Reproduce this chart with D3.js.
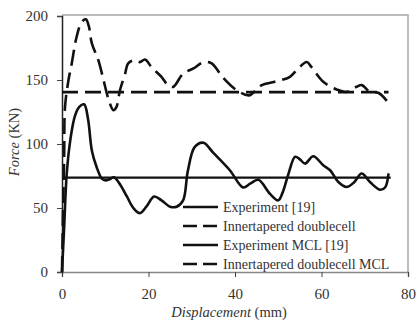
<!DOCTYPE html>
<html><head><meta charset="utf-8">
<script src="https://cdn.jsdelivr.net/npm/d3@7"></script>
<style>body{margin:0;background:#fff}svg{display:block}</style>
</head><body>
<script>
const xTicks = [0, 20, 40, 60, 80];
const yTicks = [0, 50, 100, 150, 200];
const seriesNames = ["Experiment [19]", "Innertapered doublecell", "Experiment MCL [19]", "Innertapered doublecell MCL"];
const experiment = [[0,0],[0.5,35],[1.1,77],[2,105],[3,122],[4,129],[5.1,131],[6,120],[6.9,95],[8,82],[9.2,73],[10.1,71.6],[11,72.5],[12,74],[13.5,68],[15,59],[16.5,50],[18,46],[19.5,51],[21.3,59],[23,56],[25,51],[26.5,51],[28,56],[29.1,79],[30.7,97.7],[32.7,101],[35,93],[38.8,79.5],[41.9,66],[43.5,69],[45.4,72],[48.1,61],[50,56],[51,62],[52.3,76],[53.9,90],[55,88],[56.2,84.7],[58.1,90.4],[60.4,83.4],[62,79.5],[63.9,70.3],[65.8,66.4],[67.5,70],[69.3,76.9],[71.2,70.3],[73.5,64.3],[74.7,66],[75.5,77]];
const doublecell = [[0,0],[0.2,40],[0.5,90],[0.7,129],[1.5,150],[2.2,162],[3.4,184],[4.5,195],[5.5,197.4],[6.2,192],[6.9,178.6],[8.4,165.5],[9.6,150],[10.7,135.6],[11.9,126.4],[12.6,129],[13.4,142],[14.6,155],[15.3,163],[16.9,165.5],[18,164],[19.2,166],[20.7,160],[23,152.5],[24.5,146],[25.7,144.6],[28,155],[30.4,159],[32.7,164],[34.6,163],[37.2,152],[40.4,142],[43.3,138],[44.8,142],[46.2,146],[49.2,148.6],[52.7,152.5],[54.6,159],[56.6,164],[57.7,160],[60.4,148.6],[63.5,142.6],[65.8,140.7],[68.1,144.7],[69.3,146],[71.2,140.7],[73.1,140],[75.1,133.7]];
const experimentMCL = [[0,73.7],[76,73.7]];
const doublecellMCL = [[0,140.5],[75.5,140.5]];

const W = 417, H = 320;
const svg = d3.select("body").append("svg").attr("width", W).attr("height", H);
const x = d3.scaleLinear().domain([0, 80]).range([62, 408]);
const y = d3.scaleLinear().domain([0, 200]).range([272, 16]);
const font = "'Liberation Serif','Times New Roman',serif";
const textColor = "#333";

// frame top/right
svg.append("path").attr("d", `M${x(0)},${y(200)-1}H${x(80)}V${y(0)}`)
  .attr("fill","none").attr("stroke","#a8a8a8").attr("stroke-width",1.5);

const xAxis = svg.append("g").attr("transform", `translate(0,${y(0)})`)
  .call(d3.axisBottom(x).tickValues(xTicks).tickSize(5).tickPadding(11));
const yAxis = svg.append("g").attr("transform", `translate(${x(0)},0)`)
  .call(d3.axisLeft(y).tickValues(yTicks).tickSize(5).tickPadding(9));
[xAxis, yAxis].forEach(g => {
  g.select(".domain").attr("stroke","#222").attr("stroke-width",1.5);
  g.selectAll(".tick line").attr("stroke","#444").attr("stroke-width",1);
  g.selectAll("text").attr("font-family", font).attr("font-size", 15).attr("fill", textColor);
});
xAxis.select(".domain").attr("stroke","#888");

const line = d3.line().x(d => x(d[0])).y(d => y(d[1])).curve(d3.curveCatmullRom.alpha(0.5));
const dash = "16,7";
svg.append("path").datum(experimentMCL).attr("d", line).attr("fill","none").attr("stroke","#111").attr("stroke-width",2.2);
svg.append("path").datum(doublecellMCL).attr("d", line).attr("fill","none").attr("stroke","#111").attr("stroke-width",2.6).attr("stroke-dasharray", dash);
svg.append("path").datum(doublecell).attr("d", line).attr("fill","none").attr("stroke","#111").attr("stroke-width",2.6).attr("stroke-dasharray", dash);
svg.append("path").datum(experiment).attr("d", line).attr("fill","none").attr("stroke","#111").attr("stroke-width",2.6);

// legend
const legY = [207, 226, 245, 264];
const dashed = [false, true, false, true];
seriesNames.forEach((n, i) => {
  svg.append("line").attr("x1",183).attr("x2",218).attr("y1",legY[i]).attr("y2",legY[i])
    .attr("stroke","#111").attr("stroke-width",2.6).attr("stroke-dasharray", dashed[i] ? "14,6" : null);
  svg.append("text").attr("x",223).attr("y",legY[i]).attr("dy","0.35em")
    .attr("font-family",font).attr("font-size",14).attr("fill",textColor).text(n);
});

// axis titles
const xt = svg.append("text").attr("x",229).attr("y",312).attr("dy","0.35em").attr("text-anchor","middle")
  .attr("font-family",font).attr("font-size",14.5).attr("fill",textColor);
xt.append("tspan").attr("font-style","italic").text("Displacement");
xt.append("tspan").text(" (mm)");
const yt = svg.append("text").attr("transform","translate(14,142) rotate(-90)").attr("dy","0.35em").attr("text-anchor","middle")
  .attr("font-family",font).attr("font-size",14.5).attr("fill",textColor);
yt.append("tspan").attr("font-style","italic").text("Force");
yt.append("tspan").text(" (KN)");
</script>
</body></html>
